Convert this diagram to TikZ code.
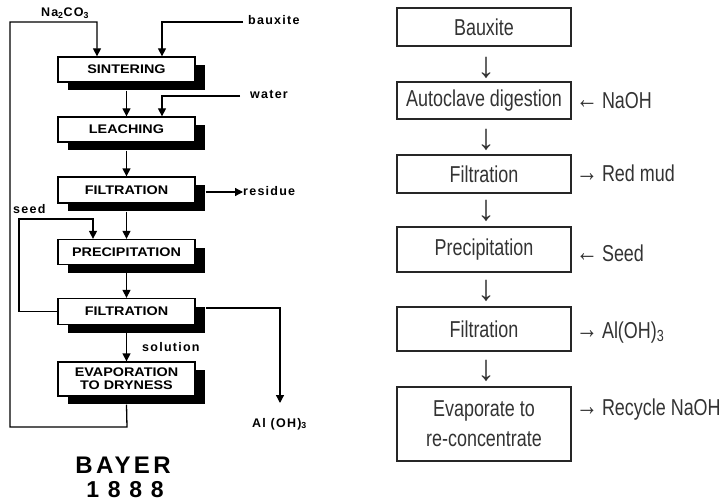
\documentclass[tikz,border=0pt]{standalone}
\usepackage{fontspec}
\setmainfont{Liberation Sans}
\newfontfamily\oldboxf[FakeStretch=1.15]{Liberation Sans}
\newfontfamily\oldlabf[LetterSpace=10]{Liberation Sans}
\newfontfamily\bayerf[LetterSpace=14]{Liberation Sans}
\newfontfamily\yearf[LetterSpace=38]{Liberation Sans}
\newfontfamily\newf[FakeStretch=0.78]{Liberation Sans}
\newfontfamily\arrf{Liberation Sans}
\usetikzlibrary{arrows.meta,shadows,calc}
\definecolor{textc}{HTML}{333333}
\definecolor{boxc}{HTML}{262626}
\newcommand{\harr}[1]{{\newf\fontsize{28}{28}\selectfont #1}\hspace{4pt}}
\begin{document}
\begin{tikzpicture}[x=1pt,y=-1pt,
  oldstep/.style={draw=black, line width=1.3pt, fill=white, minimum width=137pt,
    inner sep=0pt, align=center,
    font=\oldboxf\bfseries\fontsize{12.5}{14}\selectfont,
    general shadow={fill=black, shadow xshift=10pt, shadow yshift=-8pt}},
  flow/.style={line width=1.3pt, draw=black},
  tip/.style={-{Triangle[length=8pt,width=8pt]}},
  oldlab/.style={inner sep=0pt, font=\oldlabf\bfseries\fontsize{12.5}{14}\selectfont},
  newbox/.style={draw=boxc, line width=2.2pt, minimum width=174pt, inner sep=0pt,
    text=textc, align=center, font=\newf\fontsize{23}{30}\selectfont},
  glyph/.style={text=textc, inner sep=0pt, font=\arrf\fontsize{36}{36}\selectfont},
  sidelab/.style={text=textc, inner sep=0pt, font=\newf\fontsize{23}{30}\selectfont, anchor=base west}
]
\useasboundingbox (0,0) rectangle (724,503);
\fill[white] (0,0) rectangle (724,503);

% ---------------- left: Bayer 1888 ----------------
\node[oldstep, minimum height=25pt] (sint) at (126.5,69.5) {SINTERING};
\node[oldstep, minimum height=25pt] (leach) at (126.5,129.5) {LEACHING};
\node[oldstep, minimum height=26pt] (filt) at (126.5,190) {FILTRATION};
\node[oldstep, minimum height=25pt] (prec) at (126.5,252) {PRECIPITATION};
\node[oldstep, minimum height=26pt] (filtb) at (126.5,311.5) {FILTRATION};
\node[oldstep, minimum height=34pt] (evap) at (126.5,379) {EVAPORATION\\[-1pt]TO DRYNESS};

\node[oldlab, anchor=base] (na) at (65,17) {Na\textsubscript{2}CO\textsubscript{3}};
\node[oldlab, anchor=base west] (baux) at (248,25) {bauxite};
\node[oldlab, anchor=base west] (wat) at (250,99) {water};
\node[oldlab, anchor=base west] (res) at (243,195) {residue};
\node[oldlab, anchor=base west] (seed) at (13,213) {seed};
\node[oldlab, anchor=base west] (sol) at (142,351) {solution};
\node[oldlab, anchor=base west] (aloh) at (252,427) {Al (OH)\textsubscript{3}};

\node[inner sep=0pt, anchor=base, font=\bayerf\bfseries\fontsize{24}{26}\selectfont] (bayer) at (123,473) {BAYER};
\node[inner sep=0pt, anchor=base, font=\yearf\bfseries\fontsize{23}{26}\selectfont] (year) at (125,497) {1888};

\coordinate (bsrc) at (243,22);
\coordinate (wsrc) at (240,96);
\coordinate (loopA) at (127,427);
\coordinate (loopB) at (10,22);
\coordinate (seedA) at (19,219);
\coordinate (alA) at ($(filtb.north east)+(10,10)$);
\coordinate (alEnd) at (280,403);
\coordinate (resA) at ($(filt.east)+(10,2)$);

\draw[flow,tip] ([yshift=-8pt]evap.south) -- (loopA) -| (loopB) -| ([xshift=-29.5pt]sint.north);
\draw[flow,tip] (bsrc) -| ([xshift=35.5pt]sint.north);
\draw[flow,tip] ([yshift=-8pt]sint.south) -- (leach.north);
\draw[flow,tip] (wsrc) -| ([xshift=35.5pt]leach.north);
\draw[flow,tip] ([yshift=-8pt]leach.south) -- (filt.north);
\draw[flow,tip] (resA) -- (resA -| res.west);
\draw[flow,tip] ([yshift=-8pt]filt.south) -- (prec.north);
\draw[flow,tip] (filtb.west) -| (seedA) -| ([xshift=-33.5pt]prec.north);
\draw[flow,tip] ([yshift=-8pt]prec.south) -- (filtb.north);
\draw[flow,tip] (alA) -| (alEnd);
\draw[flow,tip] ([yshift=-8pt]filtb.south) -- (evap.north);

% ---------------- right: modern Bayer ----------------
\node[newbox, minimum height=38pt] (b1) at (484,27) {Bauxite};
\node[newbox, minimum height=37pt] (b2) at (484,100.5) {Autoclave digestion};
\node[newbox, minimum height=38pt] (b3) at (484,174) {Filtration};
\node[newbox, minimum height=45pt] (b4) at (484,249.5) {Precipitation};
\node[newbox, minimum height=44pt] (b5) at (484,329) {Filtration};
\node[newbox, minimum height=74pt] (b6) at (484,424) {Evaporate to\\re-concentrate};

\node[glyph] (d1) at (486,68) {↓};
\node[glyph] (d2) at (486,140) {↓};
\node[glyph] (d3) at (486,211) {↓};
\node[glyph] (d4) at (486,291) {↓};
\node[glyph] (d5) at (486,371) {↓};

\node[sidelab] (s2) at (576,108.5) {\harr{←}NaOH};
\node[sidelab] (s3) at (576,181) {\harr{→}Red mud};
\node[sidelab] (s4) at (576,261) {\harr{←}Seed};
\node[sidelab] (s5) at (576,338) {\harr{→}Al(OH)\textsubscript{3}};
\node[sidelab] (s6) at (576,415) {\harr{→}Recycle NaOH};
\end{tikzpicture}
\end{document}
